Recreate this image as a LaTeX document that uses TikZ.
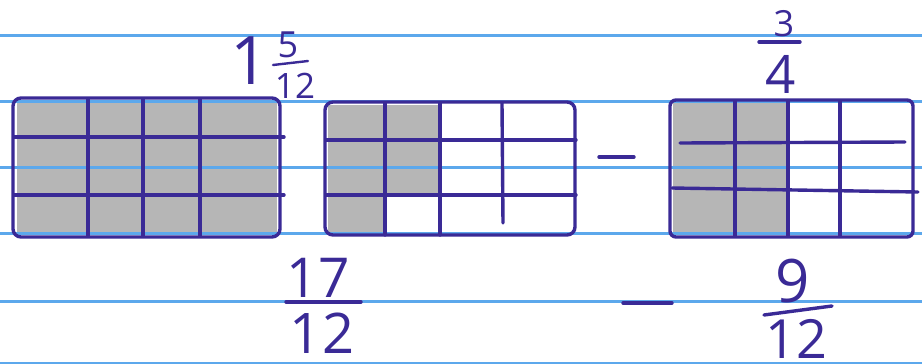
\documentclass[tikz,border=0pt]{standalone}
\usepackage{fontspec}
\setmainfont{Open Sans}
\usepackage{tikz}
\usetikzlibrary{positioning,calc}
\definecolor{penPurple}{RGB}{58,42,150}
\definecolor{ruleBlue}{RGB}{92,168,236}
\definecolor{pencilGray}{RGB}{182,182,182}

\begin{document}
\begin{tikzpicture}[
        x=1pt, y=-1pt,
        pen/.style={draw=penPurple, line width=3.4pt, line cap=round, line join=round},
        ruled/.style={draw=ruleBlue, line width=3pt},
        pencil/.style={fill=pencilGray},
        digit/.style={text=penPurple, inner sep=0pt, anchor=center}
      ]
        \useasboundingbox[fill=white] (0,0) rectangle (922,364);

        % Pencil shading
        \fill[pencil] (17,102) rectangle (277,234);
        \fill[pencil] (328,105) -- (440,105) -- (440,195) -- (385,195)
          -- (385,232) -- (328,232) -- cycle;
        \fill[pencil] (673,103) rectangle (788,234);

        % Ruled paper
        \foreach \y in {35,101,167,233,301,363}
          \draw[ruled] (0,\y) -- (922,\y);

        % Grid: whole
        \draw[pen, rounded corners=8pt] (13,98) rectangle (280,237);
        \foreach \x in {88,143,200}
          \draw[pen] (\x,99) -- (\x,236);
        \foreach \y in {137,195}
          \draw[pen] (14,\y) -- (284,\y);

        % Grid: five twelfths
        \draw[pen, rounded corners=8pt] (325,102) rectangle (575,235);
        \foreach \x in {385,440}
          \draw[pen] (\x,103) -- (\x,235);
        \draw[pen] (502,103) -- (503,223);
        \foreach \y in {140,195}
          \draw[pen] (326,\y) -- (576,\y);

        % Grid: three fourths
        \draw[pen, rounded corners=6pt] (670,100) rectangle (913,237);
        \foreach \x in {735,788,840}
          \draw[pen] (\x,101) -- (\x,236);
        \draw[pen] (680,143) -- (905,142);
        \draw[pen] (672,188) -- (918,192);

        % Top labels
        \node[digit, font=\fontsize{67}{67}\selectfont] (whole) at (250,61) {1};
        \node[digit, font=\fontsize{36}{36}\selectfont] (fiveNum) at (288,45) {5};
        \node[digit, font=\fontsize{35}{35}\selectfont] (fiveDen) at (295,86) {12};
        \draw[pen, line width=2.4pt] (273,65) -- (308,61);

        \node[digit, font=\fontsize{36}{36}\selectfont] (threeNum) at (784,24) {3};
        \node[digit, font=\fontsize{53}{53}\selectfont] (threeDen) at (781,74) {4};
        \draw[pen] (759,42) -- (800,42);

        \draw[pen] (599,157) -- (634,157);

        % Bottom labels
        \node[digit, font=\fontsize{55}{55}\selectfont] (sevNum) at (318,278) {17};
        \node[digit, font=\fontsize{56}{56}\selectfont] (sevDen) at (322,333) {12};
        \draw[pen] (286,302) -- (361,302);

        \draw[pen] (623,303) -- (672,303);

        \node[digit, font=\fontsize{60}{60}\selectfont] (nineNum) at (793,281) {9};
        \node[digit, font=\fontsize{54}{54}\selectfont] (nineDen) at (796,339) {12};
        \draw[pen] (764,315) -- (832,306);
      \end{tikzpicture}
\end{document}
